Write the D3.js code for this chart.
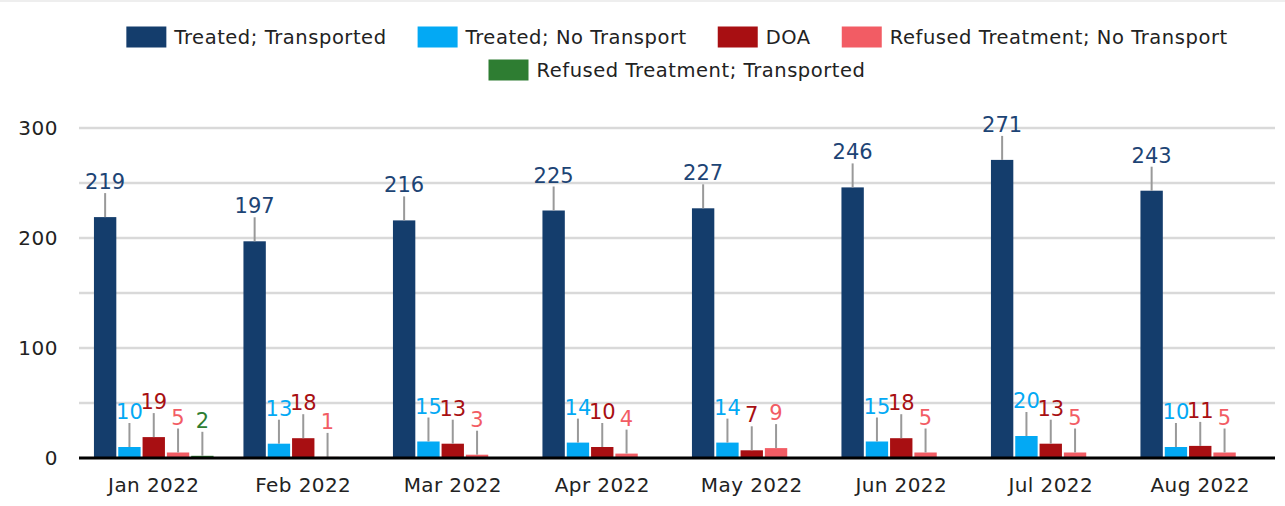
<!DOCTYPE html>
<html><head><meta charset="utf-8">
<script src="https://cdn.jsdelivr.net/npm/d3@7"></script>
<style>
html,body{margin:0;padding:0;background:#fff;}
svg{display:block;font-family:"DejaVu Sans",sans-serif;}
</style></head>
<body><svg id="c" width="1285" height="506"></svg>
<script>
const months = ["Jan 2022","Feb 2022","Mar 2022","Apr 2022","May 2022","Jun 2022","Jul 2022","Aug 2022"];
const seriesNames = ["Treated; Transported","Treated; No Transport","DOA","Refused Treatment; No Transport","Refused Treatment; Transported"];
const treatedTransported = [219,197,216,225,227,246,271,243];
const treatedNoTransport = [10,13,15,14,14,15,20,10];
const doa = [19,18,13,10,7,18,13,11];
const refusedNoTransport = [5,1,3,4,9,5,5,5];
const refusedTransported = [2,null,null,null,null,null,null,null];
const yTicks = [0,100,200,300];
const colors = ["#143d6c","#03a9f4","#a80f12","#f25c64","#2e7d32"];
const labelColors = ["#1d4475","#03a9f4","#a80f12","#f25c64","#2e7d32"];

const allSeries = [treatedTransported, treatedNoTransport, doa, refusedNoTransport, refusedTransported];
const svg = d3.select("#c");
const pLeft = 79, pRight = 1275, pTop = 128, pBottom = 458;

const x0 = d3.scaleBand().domain(months).range([pLeft, pRight]).paddingInner(0.2).paddingOuter(0.1);
const x1 = d3.scaleBand().domain(d3.range(5)).range([0, x0.bandwidth()]).paddingInner(0.08);
const y = d3.scaleLinear().domain([0,300]).range([pBottom, pTop]);

// top faint shadow line
svg.append("rect").attr("x",0).attr("y",0).attr("width",1285).attr("height",2).attr("fill","#eeeeee");

// gridlines
svg.append("g").selectAll("line").data(d3.range(50,301,50)).join("line")
  .attr("x1", pLeft).attr("x2", pRight)
  .attr("y1", d=>y(d)).attr("y2", d=>y(d))
  .attr("stroke","#d9d9d9").attr("stroke-width",2.5);

// y labels
svg.append("g").selectAll("text").data(yTicks).join("text")
  .attr("x", 58).attr("y", d=>y(d)).attr("dy","0.36em")
  .attr("text-anchor","end").attr("font-size",20).attr("fill","#222")
  .attr("letter-spacing",0.5)
  .text(d=>d);

const cells = [];
months.forEach((m,i)=>{
  allSeries.forEach((s,j)=>{
    if (s[i] !== null && s[i] !== undefined) cells.push({m, j, v:s[i]});
  });
});

svg.append("g").selectAll("rect").data(cells).join("rect")
  .attr("x", d=>x0(d.m)+x1(d.j)).attr("width", x1.bandwidth())
  .attr("y", d=>y(d.v)).attr("height", d=>pBottom - y(d.v))
  .attr("fill", d=>colors[d.j]);

// leader lines
svg.append("g").selectAll("line").data(cells).join("line")
  .attr("x1", d=>x0(d.m)+x1(d.j)+x1.bandwidth()/2)
  .attr("x2", d=>x0(d.m)+x1(d.j)+x1.bandwidth()/2)
  .attr("y1", d=>y(d.v)-24).attr("y2", d=>y(d.v))
  .attr("stroke","#999").attr("stroke-width",2);

// value labels
svg.append("g").selectAll("text").data(cells).join("text")
  .attr("x", d=>x0(d.m)+x1(d.j)+x1.bandwidth()/2)
  .attr("y", d=>y(d.v)-28)
  .attr("text-anchor","middle").attr("font-size",21)
  .attr("fill", d=>labelColors[d.j])
  .text(d=>d.v);

// axis line
svg.append("line").attr("x1",pLeft).attr("x2",pRight).attr("y1",pBottom).attr("y2",pBottom)
  .attr("stroke","#000").attr("stroke-width",3);

// x labels
svg.append("g").selectAll("text").data(months).join("text")
  .attr("x", d=>x0(d)+x0.bandwidth()/2).attr("y", 492)
  .attr("text-anchor","middle").attr("font-size",20).attr("fill","#222")
  .attr("letter-spacing",0.4)
  .text(d=>d);

// legend
const lg = svg.append("g");
const fs = 19.5, sw = 40, sh = 21, gapText = 8, gapItem = 31;
function legendRow(items, cy){
  const g = lg.append("g");
  let xx = 0;
  items.forEach(idx=>{
    g.append("rect").attr("x",xx).attr("y",cy-sh/2).attr("width",sw).attr("height",sh).attr("fill",colors[idx]);
    const t = g.append("text").attr("x",xx+sw+gapText).attr("y",cy).attr("dy","0.36em")
      .attr("font-size",fs).attr("letter-spacing",0.55).attr("fill","#222").text(seriesNames[idx]);
    xx += sw + gapText + t.node().getComputedTextLength() + gapItem;
  });
  const w = xx - gapItem;
  g.attr("transform",`translate(${(pLeft+pRight)/2 - w/2},0)`);
}
legendRow([0,1,2,3], 37);
legendRow([4], 70);
</script></body></html>
